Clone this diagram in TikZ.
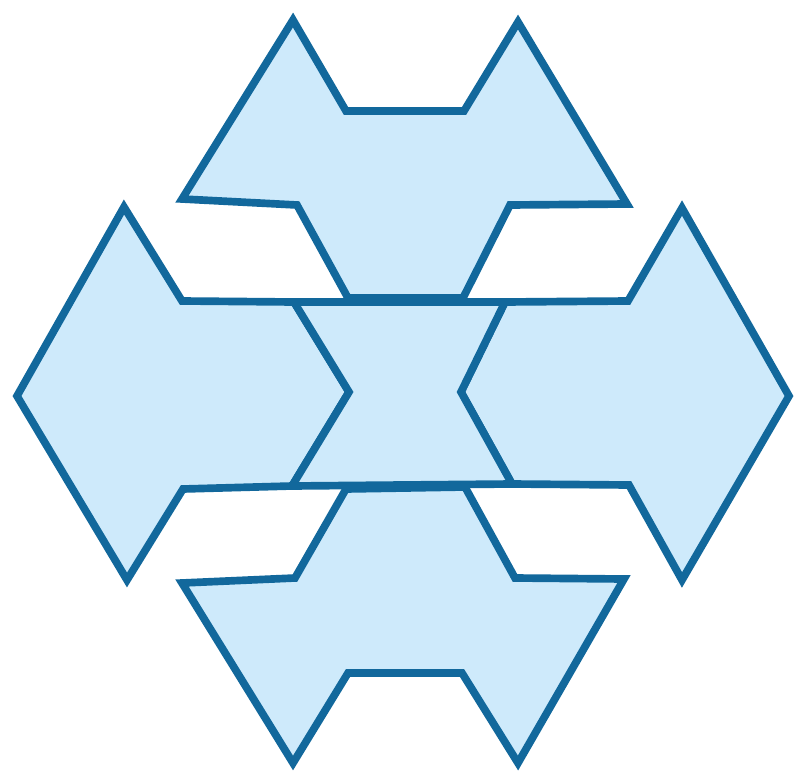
\documentclass[tikz,border=0pt]{standalone}
\usepackage{tikz}
\definecolor{tileedge}{RGB}{18,104,156}
\definecolor{tilefill}{RGB}{206,234,251}
\tikzset{
  tile/.style = {draw=tileedge, fill=tilefill, line width=2.3mm, line join=miter},
}
\begin{document}
\begin{tikzpicture}[x=0.3mm,y=-0.3mm]
  \useasboundingbox (0,0) rectangle (796,775);
  % top piece
  \draw[tile] (293,20) -- (346,111) -- (464,111) -- (518,22) -- (627,204) -- (510,205)
    -- (463,298) -- (348,298) -- (297,205) -- (182,199) -- cycle;
  % left piece
  \draw[tile] (124,207) -- (182,301) -- (294,302) -- (349,392) -- (292,486) -- (183,489)
    -- (127,580) -- (17,396) -- cycle;
  % right piece
  \draw[tile] (682,208) -- (789,396) -- (682,580) -- (629,485) -- (512,484) -- (461,392)
    -- (505,302) -- (628,301) -- cycle;
  % bottom piece
  \draw[tile] (346,489) -- (465,487) -- (515,578) -- (624,579) -- (518,763) -- (462,673)
    -- (348,673) -- (293,763) -- (182,583) -- (295,578) -- cycle;
  % centre piece
  \draw[tile] (294,302) -- (505,302) -- (461,392) -- (512,484) -- (292,486) -- (349,392) -- cycle;
\end{tikzpicture}
\end{document}
